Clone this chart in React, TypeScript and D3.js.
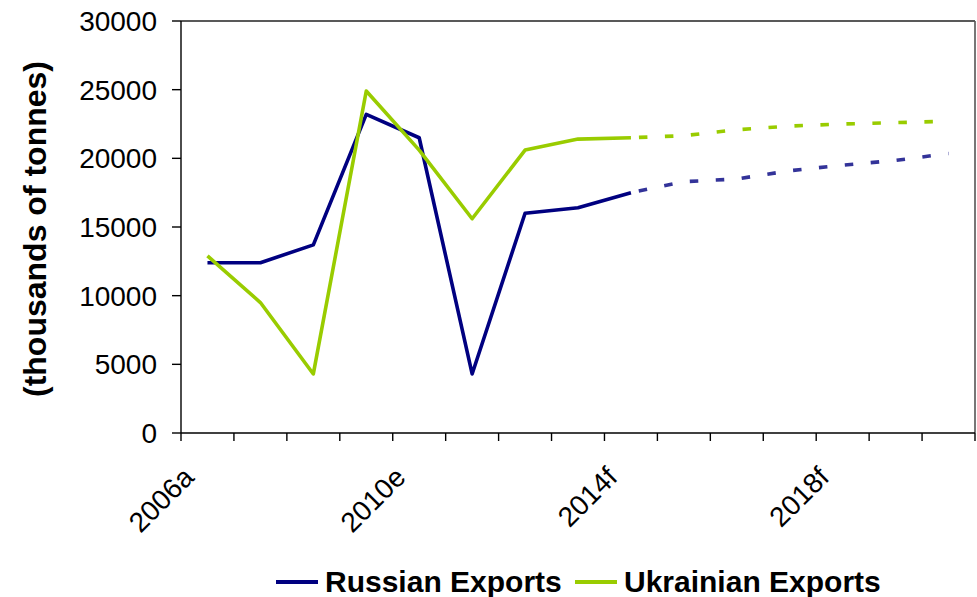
import React from "react";
import * as d3 from "d3";

const categories = ["2006a","2007a","2008a","2009a","2010e","2011f","2012f","2013f","2014f","2015f","2016f","2017f","2018f","2019f","2020f"];
const shownLabels = ["2006a","2010e","2014f","2018f"];
const russian = [12400,12400,13700,23200,21500,4300,16000,16400,17500,18300,18500,19100,19500,19850,20350];
const ukrainian = [12900,9500,4300,24900,20600,15600,20600,21400,21500,21650,22080,22350,22500,22600,22700];
const forecastStart = 8;
const yTicks = [0,5000,10000,15000,20000,25000,30000];
const seriesNames = ["Russian Exports","Ukrainian Exports"];

const W = 977, H = 597;
const left = 181, right = 975, top = 21, bottom = 433;
const FONT = "'Liberation Sans', Arial, Helvetica, sans-serif";

export default function App() {
  const x = d3.scaleBand<string>().domain(categories).range([left, right]).padding(0);
  const y = d3.scaleLinear().domain([0, 30000]).range([bottom, top]);
  const cx = (i: number) => (x(categories[i]) as number) + x.bandwidth() / 2;
  const line = d3.line<number>().x((_, i) => cx(i)).y((d) => y(d));
  const lineOff = (off: number) => d3.line<number>().x((_, i) => cx(i + off)).y((d) => y(d));

  const series = [
    { values: russian, solid: "#000080", dashed: "#333399" },
    { values: ukrainian, solid: "#99CC00", dashed: "#99CC00" },
  ];
  const boundaries = d3.range(categories.length + 1).map((i) => left + i * x.bandwidth());

  return (
    <svg width={W} height={H} style={{ position: "absolute", left: 0, top: 0, background: "#fff" }} fontFamily={FONT}>
      {/* plot box */}
      <line x1={left} x2={right} y1={top} y2={top} stroke="#222" strokeWidth={1.3} />
      <line x1={right} x2={right} y1={top} y2={bottom} stroke="#555" strokeWidth={1.6} />
      {/* y axis */}
      <line x1={left} x2={left} y1={top} y2={bottom} stroke="#000" strokeWidth={1.4} />
      {yTicks.map((t) => (
        <g key={t}>
          <line x1={left - 9} x2={left} y1={y(t)} y2={y(t)} stroke="#000" strokeWidth={1.4} />
          <text x={157} y={y(t)} dy="0.36em" textAnchor="end" fontSize={28} fill="#000">{t}</text>
        </g>
      ))}
      {/* x axis */}
      <line x1={left} x2={right} y1={bottom} y2={bottom} stroke="#000" strokeWidth={1.4} />
      {boundaries.map((b, i) => (
        <line key={i} x1={b} x2={b} y1={bottom} y2={bottom + 8} stroke="#000" strokeWidth={1.4} />
      ))}
      {categories.map((c, i) =>
        shownLabels.includes(c) ? (
          <text key={c} transform={`translate(${cx(i) - 12},${479}) rotate(-45)`} textAnchor="end" fontSize={28} fill="#000">{c}</text>
        ) : null
      )}
      {/* y title */}
      <text transform={`translate(46,229) rotate(-90)`} textAnchor="middle" fontSize={32} fontWeight="bold" fill="#000">(thousands of tonnes)</text>
      {/* series */}
      {series.map((s, k) => (
        <g key={k}>
          <path d={line(s.values.slice(0, forecastStart + 1)) || ""} fill="none" stroke={s.solid} strokeWidth={3.6} strokeLinejoin="round" />
          <path d={lineOff(forecastStart)(s.values.slice(forecastStart)) || ""} fill="none" stroke={s.dashed} strokeWidth={3.6} strokeDasharray="8.5,17.5" strokeDashoffset={-8} />
        </g>
      ))}
      {/* legend */}
      {seriesNames.map((n, k) => {
        const lx = k === 0 ? 276 : 575;
        return (
          <g key={n}>
            <line x1={lx} x2={lx + 42} y1={582} y2={582} stroke={series[k].solid} strokeWidth={4} />
            <text x={lx + 49} y={592} fontSize={30} fontWeight="bold" fill="#000">{n}</text>
          </g>
        );
      })}
    </svg>
  );
}
